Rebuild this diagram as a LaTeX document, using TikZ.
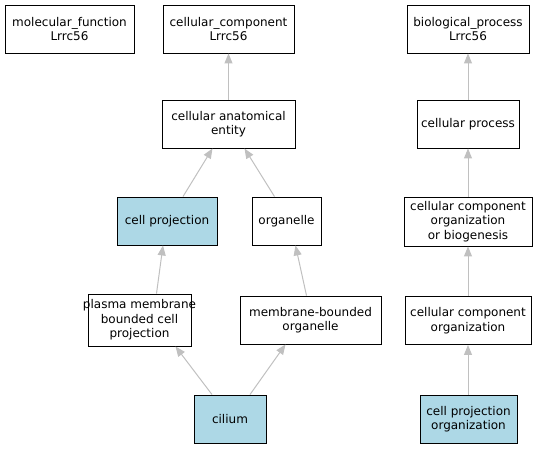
\documentclass[tikz,border=0pt]{standalone}
\usepackage{fontspec}
\setmainfont{DejaVu Sans}
\usepackage{tikz}
\usetikzlibrary{arrows.meta,positioning}
\usepackage{xcolor}
\definecolor{golightblue}{RGB}{173,216,230}
\definecolor{goedge}{RGB}{192,192,192}
\tikzstyle{isa} = [line width=1pt, goedge, -{Triangle[length=10pt,width=8pt]}]
\tikzstyle{term} = [rectangle, draw=black, line width=0.9pt, fill=white, inner sep=0pt, align=center, font=\fontsize{12}{14.5}\selectfont]

\begin{document}
\begin{tikzpicture}[x=1pt, y=-1pt]
\useasboundingbox (0,0) rectangle (541,448);

% Root terms
\node[term, minimum width=129pt, minimum height=48pt] (mf) at (69.5,29) {molecular\_function\\Lrrc56};
\node[term, minimum width=131pt, minimum height=48pt] (cc) at (228.5,29) {cellular\_component\\Lrrc56};
\node[term, minimum width=122pt, minimum height=48pt] (bp) at (468,29) {biological\_process\\Lrrc56};

% Cellular component branch
\node[term, minimum width=133pt, minimum height=48pt] (cae) at (228.5,124) {cellular anatomical\\entity};
\node[term, minimum width=100pt, minimum height=48pt, fill=golightblue] (cellproj) at (167,221) {cell projection};
\node[term, minimum width=69pt, minimum height=48pt] (organelle) at (286.5,221) {organelle};
\node[term, minimum width=103pt, minimum height=52pt, inner xsep=-5pt] (pmbcp) at (139.5,320) {plasma membrane\\bounded cell\\projection};
\node[term, minimum width=141pt, minimum height=48pt] (mbo) at (310.5,320) {membrane-bounded\\organelle};
\node[term, minimum width=72pt, minimum height=48pt, fill=golightblue] (cilium) at (230,419) {cilium};

% Biological process branch
\node[term, minimum width=102pt, minimum height=48pt] (cproc) at (468,124) {cellular process};
\node[term, minimum width=128pt, minimum height=49pt] (ccob) at (468,221.5) {cellular component\\organization\\or biogenesis};
\node[term, minimum width=126pt, minimum height=48pt] (cco) at (468,320.5) {cellular component\\organization};
\node[term, minimum width=97pt, minimum height=48pt, fill=golightblue] (cpo) at (468.5,419) {cell projection\\organization};

% is_a edges
\draw[isa] ([xshift=-18pt]cilium.north) -- ([xshift=36pt]pmbcp.south);
\draw[isa] ([xshift=20pt]cilium.north) -- ([xshift=-25pt]mbo.south);
\draw[isa] ([xshift=17pt]pmbcp.north) -- ([xshift=-4pt]cellproj.south);
\draw[isa] ([xshift=-4pt]mbo.north) -- ([xshift=9pt]organelle.south);
\draw[isa] ([xshift=16pt]cellproj.north) -- ([xshift=-16pt]cae.south);
\draw[isa] ([xshift=-12pt]organelle.north) -- ([xshift=16pt]cae.south);
\draw[isa] (cae) -- (cc);

\draw[isa] (cpo.north -| cco.south) -- (cco);
\draw[isa] (cco) -- (ccob);
\draw[isa] (ccob) -- (cproc);
\draw[isa] (cproc) -- (bp);
\end{tikzpicture}
\end{document}
